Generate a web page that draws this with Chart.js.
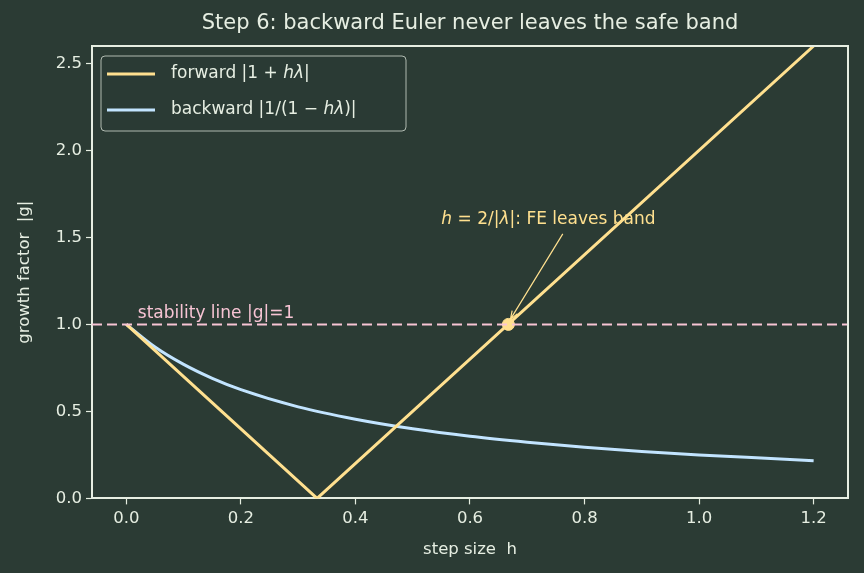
<!DOCTYPE html>
<html>
<head>
<meta charset="utf-8">
<script src="https://cdn.jsdelivr.net/npm/chart.js@4.4.1/dist/chart.umd.min.js"></script>
<style>
  html, body { margin: 0; padding: 0; background: #2b3b34; }
  #wrap { width: 864px; height: 573px; }
</style>
</head>
<body>
<div id="wrap"><canvas id="c" width="864" height="573"></canvas></div>
<script>
// values
const forwardH = [0, 0.333, 1.2];
const forwardG = [1.0, 0.0, 2.6];
const backwardH = [0, 0.05, 0.1, 0.15, 0.2, 0.3, 0.4, 0.5, 0.6, 0.7, 0.8, 0.9, 1.0, 1.1, 1.2];
const backwardG = [1.0, 0.87, 0.77, 0.69, 0.625, 0.526, 0.455, 0.4, 0.357, 0.323, 0.294, 0.27, 0.25, 0.233, 0.217];
const stabilityH = [-0.06, 1.26];
const stabilityG = [1.0, 1.0];
const crossing = { h: 0.667, g: 1.0 };
const xTicks = [0, 0.2, 0.4, 0.6, 0.8, 1.0, 1.2];
const yTicks = [0, 0.5, 1.0, 1.5, 2.0, 2.5];

const colors = {
    bg: "#2b3b34",
    fg: "#e6eee2",
    forward: "#ffe08f",
    backward: "#c2e4ff",
    stability: "#f7c4d4",
};
const FONT = "'DejaVu Sans', sans-serif";

const toXY = (xs, ys) => xs.map((x, i) => ({ x: x, y: ys[i] }));

// text helper: parts = [[text, italic], ...]
function drawParts(ctx, parts, x, y, size, color) {
    ctx.fillStyle = color;
    ctx.textBaseline = "middle";
    ctx.textAlign = "left";
    let cx = x;
    parts.forEach(([t, it]) => {
        ctx.font = (it ? "italic " : "") + size + "px " + FONT;
        ctx.fillText(t, cx, y);
        cx += ctx.measureText(t).width;
    });
}

const decorations = {
    id: "decorations",
    afterDatasetsDraw(chart) {
        const ctx = chart.ctx;
        const xs = chart.scales.x, ys = chart.scales.y;
        const a = chart.chartArea;
        ctx.save();

        // stability label
        ctx.font = "17px " + FONT;
        ctx.fillStyle = colors.stability;
        ctx.textBaseline = "alphabetic";
        ctx.fillText("stability line |g|=1", xs.getPixelForValue(0.02), ys.getPixelForValue(1.0) - 6);

        // annotation arrow
        const px = xs.getPixelForValue(crossing.h), py = ys.getPixelForValue(crossing.g);
        const sx = xs.getPixelForValue(0.762), sy = ys.getPixelForValue(1.52);
        const ex = px + 2, ey = py - 5;
        ctx.strokeStyle = colors.forward;
        ctx.lineWidth = 1.2;
        ctx.beginPath();
        ctx.moveTo(sx, sy);
        ctx.lineTo(ex, ey);
        const ang = Math.atan2(ey - sy, ex - sx);
        ctx.moveTo(ex - 9 * Math.cos(ang - 0.35), ey - 9 * Math.sin(ang - 0.35));
        ctx.lineTo(ex, ey);
        ctx.lineTo(ex - 9 * Math.cos(ang + 0.35), ey - 9 * Math.sin(ang + 0.35));
        ctx.stroke();

        drawParts(ctx, [["h", true], [" = 2/|", false], ["λ", true], ["|: FE leaves band", false]],
            xs.getPixelForValue(0.55), ys.getPixelForValue(1.6), 17, colors.forward);

        // legend box
        const lx = a.left + 9, ly = a.top + 10, lw = 305, lh = 75;
        ctx.beginPath();
        ctx.roundRect(lx, ly, lw, lh, 4);
        ctx.fillStyle = "rgba(43,59,52,0.8)";
        ctx.fill();
        ctx.strokeStyle = "rgba(220,228,218,0.75)";
        ctx.lineWidth = 1;
        ctx.stroke();

        const rows = [
            { c: colors.forward, parts: [["forward |1 + ", false], ["hλ", true], ["|", false]] },
            { c: colors.backward, parts: [["backward |1/(1 − ", false], ["hλ", true], [")|", false]] },
        ];
        rows.forEach((r, i) => {
            const yy = ly + 18 + i * 36;
            ctx.strokeStyle = r.c;
            ctx.lineWidth = 3;
            ctx.beginPath();
            ctx.moveTo(lx + 6, yy);
            ctx.lineTo(lx + 54, yy);
            ctx.stroke();
            drawParts(ctx, r.parts, lx + 70, yy, 17, colors.fg);
        });

        ctx.restore();
    },
};

new Chart(document.getElementById("c").getContext("2d"), {
    type: "line",
    data: {
        datasets: [
            {
                label: "stability",
                data: toXY(stabilityH, stabilityG),
                borderColor: colors.stability,
                borderWidth: 2,
                borderDash: [10, 5],
                pointRadius: 0,
            },
            {
                label: "forward",
                data: toXY(forwardH, forwardG),
                borderColor: colors.forward,
                borderWidth: 3,
                pointRadius: 0,
            },
            {
                label: "backward",
                data: toXY(backwardH, backwardG),
                borderColor: colors.backward,
                borderWidth: 3,
                pointRadius: 0,
                cubicInterpolationMode: "monotone",
            },
            {
                label: "crossing",
                data: [{ x: crossing.h, y: crossing.g }],
                borderColor: colors.forward,
                backgroundColor: colors.forward,
                pointRadius: 6,
                showLine: false,
            },
        ],
    },
    options: {
        responsive: false,
        animation: false,
        layout: { padding: { top: 46, right: 16, left: 15, bottom: 0 } },
        plugins: {
            legend: { display: false },
            tooltip: { enabled: false },
            title: { display: false },
        },
        scales: {
            x: {
                type: "linear",
                min: -0.06,
                max: 1.26,
                afterBuildTicks(axis) { axis.ticks = xTicks.map(v => ({ value: v })); },
                ticks: {
                    color: colors.fg,
                    font: { family: FONT, size: 16.5 },
                    padding: 4,
                    callback: v => v.toFixed(1),
                    maxRotation: 0,
                },
                grid: { drawOnChartArea: false, color: colors.fg, tickLength: 6, tickWidth: 1.2 },
                border: { color: colors.fg, width: 2 },
                title: {
                    display: true,
                    text: "step size  h",
                    color: colors.fg,
                    font: { family: FONT, size: 16.5 },
                    padding: { top: 8, bottom: 13 },
                },
            },
            y: {
                min: 0,
                max: 2.6,
                afterBuildTicks(axis) { axis.ticks = yTicks.map(v => ({ value: v })); },
                afterFit(axis) { axis.width = 77; },
                ticks: {
                    color: colors.fg,
                    font: { family: FONT, size: 16.5 },
                    padding: 4,
                    callback: v => v.toFixed(1),
                },
                grid: { drawOnChartArea: false, color: colors.fg, tickLength: 6, tickWidth: 1.2 },
                border: { color: colors.fg, width: 2 },
                title: {
                    display: true,
                    text: "growth factor  |g|",
                    color: colors.fg,
                    font: { family: FONT, size: 16.5 },
                    padding: { top: 0, bottom: 8 },
                },
            },
        },
    },
    plugins: [
        decorations,
        {
            id: "frame",
            beforeDraw(chart) {
                const ctx = chart.ctx;
                ctx.save();
                ctx.fillStyle = colors.bg;
                ctx.fillRect(0, 0, chart.width, chart.height);
                ctx.font = "21px " + FONT;
                ctx.fillStyle = colors.fg;
                ctx.textAlign = "center";
                ctx.textBaseline = "middle";
                ctx.fillText("Step 6: backward Euler never leaves the safe band", 470, 24);
                ctx.restore();
            },
            afterDraw(chart) {
                // top and right spines
                const a = chart.chartArea, ctx = chart.ctx;
                ctx.save();
                ctx.strokeStyle = colors.fg;
                ctx.lineWidth = 2;
                ctx.beginPath();
                ctx.moveTo(a.left, a.top);
                ctx.lineTo(a.right, a.top);
                ctx.lineTo(a.right, a.bottom);
                ctx.stroke();
                ctx.restore();
            },
        },
    ],
});
</script>
</body>
</html>
